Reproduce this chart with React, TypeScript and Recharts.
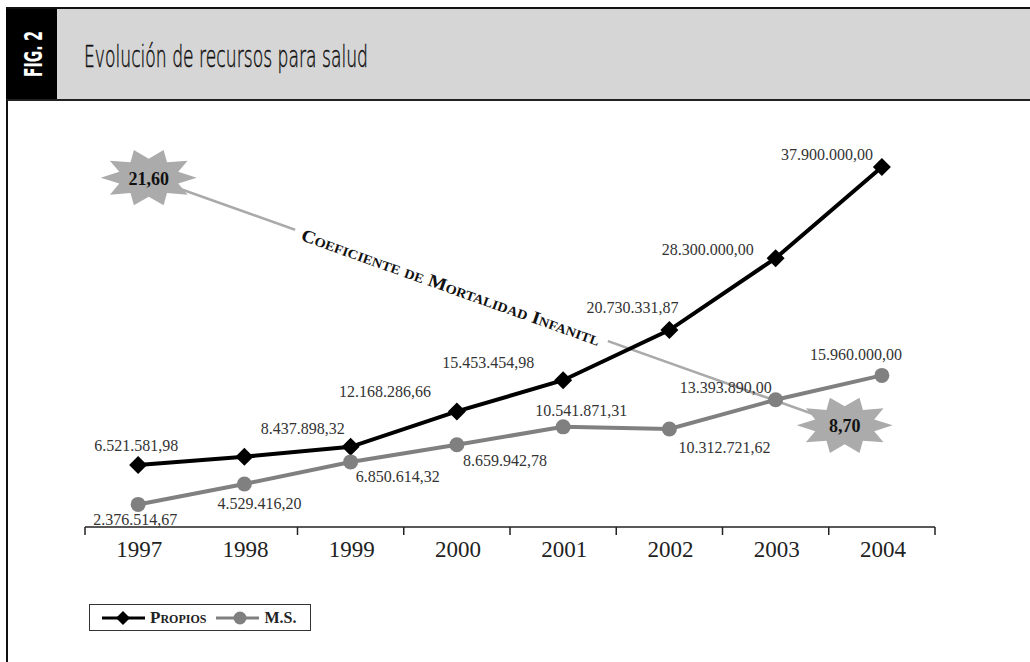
import React from 'react';
import { LineChart, Line, XAxis, YAxis, Legend, LabelList } from 'recharts';

const years = [1997, 1998, 1999, 2000, 2001, 2002, 2003, 2004];
const propiosValues = [6521581.98, 7400000, 8437898.32, 12168286.66, 15453454.98, 20730331.87, 28300000, 37900000];
const msValues = [2376514.67, 4529416.2, 6850614.32, 8659942.78, 10541871.31, 10312721.62, 13393890, 15960000];
const mortYears = [1997.1, 2003.65];
const mortValues = [21.6, 8.7];
const mortCaption = 'Coeficiente de Mortalidad Infanitl';
const axisTicks = [1996.5, 1997, 1998, 1998.5, 1999, 1999.5, 2000, 2000.5, 2001, 2001.5, 2002, 2002.5, 2003, 2003.5, 2004, 2004.5];

const data = years.map((year, i) => ({ year, propios: propiosValues[i], ms: msValues[i] }));
const mortData = mortYears.map((year, i) => ({ year, m: mortValues[i] }));

const SERIF = "'Liberation Serif', 'Times New Roman', serif";
const NARROW = "'Liberation Sans Narrow', 'DejaVu Sans Condensed', sans-serif";

// label offsets from each point (label centre), null = no label
const propiosOffsets: (number[] | null)[] = [[-2, -20], null, [-48, -18], [-72, -20], [-75, -18], [-37, -23], [-68, -9], [-55, -12]];
const msOffsets: (number[] | null)[] = [[-3, 15], [15, 20], [47, 15], [48, 16], [18, -16], [55, 18], [-50, -12], [-26, -21]];

const fmt = (v: number) => {
  const [i, d] = v.toFixed(2).split('.');
  return i.replace(/\B(?=(\d{3})+(?!\d))/g, '.') + ',' + d;
};

const makeLabel = (offsets: (number[] | null)[]) => (props: any) => {
  const { index, value } = props;
  const x = props.x ?? props.viewBox?.x;
  const y = props.y ?? props.viewBox?.y;
  const off = offsets[index];
  if (!off || x == null) return null;
  return (
    <text x={x + off[0]} y={y + off[1]} textAnchor="middle" dominantBaseline="central" fontFamily={SERIF} fontSize={16} fill="#333">
      {fmt(value)}
    </text>
  );
};

const Diamond = (p: any) => {
  const { cx, cy } = p;
  if (cx == null) return null;
  const s = 9;
  return <path key={p.key} d={`M${cx},${cy - s}L${cx + s},${cy}L${cx},${cy + s}L${cx - s},${cy}Z`} fill="#000" />;
};

const Circle = (p: any) => {
  const { cx, cy } = p;
  if (cx == null) return null;
  return <circle key={p.key} cx={cx} cy={cy} r={7.5} fill="#808080" />;
};

const starPath = (cx: number, cy: number) => {
  const n = 10;
  let d = '';
  for (let k = 0; k < n * 2; k++) {
    const a = (Math.PI * k) / n;
    const outer = k % 2 === 0;
    const rx = outer ? 48 : 31;
    const ry = outer ? 29 : 19;
    d += (k === 0 ? 'M' : 'L') + (cx + rx * Math.cos(a)).toFixed(1) + ',' + (cy + ry * Math.sin(a)).toFixed(1);
  }
  return d + 'Z';
};

const MortDot = (p: any) => {
  const { cx, cy, index, value, points } = p;
  if (cx == null) return null;
  const star = (
    <g>
      <path d={starPath(cx, cy)} fill="#ababab" />
      <text x={cx} y={cy + 1} textAnchor="middle" dominantBaseline="central" fontFamily={SERIF} fontWeight="bold" fontSize={18} fill="#111">
        {value.toFixed(2).replace('.', ',')}
      </text>
    </g>
  );
  if (index === 0 && points && points.length > 1) {
    const a = points[0];
    const b = points[1];
    const ang = (Math.atan2(b.y - a.y, b.x - a.x) * 180) / Math.PI;
    const t = 0.435;
    const tx = a.x + (b.x - a.x) * t;
    const ty = a.y + (b.y - a.y) * t;
    return (
      <g key={p.key}>
        <g transform={`translate(${tx},${ty}) rotate(${ang})`}>
          <rect x={-166} y={-9} width={332} height={18} fill="#fff" />
          <text x={0} y={2} textAnchor="middle" dominantBaseline="central" fontFamily={SERIF} fontWeight="bold" fontSize={18}
            fill="#111" style={{ fontVariant: 'small-caps' }} textLength={316} lengthAdjust="spacingAndGlyphs">
            {mortCaption}
          </text>
        </g>
        {star}
      </g>
    );
  }
  return <g key={p.key}>{star}</g>;
};

const YearTick = (p: any) => {
  const { x, y, payload } = p;
  const v = payload.value;
  if (!Number.isInteger(v)) {
    return <line x1={x} x2={x} y1={y} y2={y + 8} stroke="#222" strokeWidth={1.5} />;
  }
  return (
    <text x={x + 1} y={y + 30} textAnchor="middle" fontFamily={SERIF} fontSize={23} fill="#222">
      {v}
    </text>
  );
};

const LegendBox = () => (
  <div style={{ boxSizing: 'border-box', width: 222, height: 27, border: '1.5px solid #333', display: 'flex', alignItems: 'center', paddingLeft: 12, fontFamily: SERIF, color: '#222' }}>
    <svg width={43} height={18}>
      <line x1={0} y1={9} x2={43} y2={9} stroke="#000" strokeWidth={3} />
      <path d="M21,2L28,9L21,16L14,9Z" fill="#000" />
    </svg>
    <span style={{ marginLeft: 5, fontWeight: 'bold', fontSize: 17, fontVariant: 'small-caps' }}>Propios</span>
    <svg width={43} height={18} style={{ marginLeft: 10 }}>
      <line x1={0} y1={9} x2={43} y2={9} stroke="#808080" strokeWidth={3} />
      <circle cx={24} cy={9} r={6.5} fill="#808080" />
    </svg>
    <span style={{ marginLeft: 5, fontWeight: 'bold', fontSize: 16 }}>M.S.</span>
  </div>
);

const Header = () => (
  <svg width={1030} height={102} style={{ position: 'absolute', left: 0, top: 0 }}>
    <rect x={57} y={9} width={973} height={91} fill="#d6d6d6" />
    <rect x={6} y={8} width={51} height={92} fill="#000" />
    <line x1={6} y1={8} x2={1030} y2={8} stroke="#111" strokeWidth={2} />
    <line x1={6} y1={100} x2={1030} y2={100} stroke="#222" strokeWidth={2} />
    <text transform="translate(42,54) rotate(-90)" textAnchor="middle" fontFamily={NARROW} fontWeight="bold" fontSize={25} fill="#fff" textLength={46} lengthAdjust="spacingAndGlyphs">
      FIG. 2
    </text>
    <text x={84} y={67} fontFamily="'DejaVu Sans', sans-serif" fontWeight={200} fontSize={30} fill="#111" stroke="#111" strokeWidth={0.5}
      textLength={284} lengthAdjust="spacingAndGlyphs">
      Evolución de recursos para salud
    </text>
  </svg>
);

const App: React.FC = () => {
  return (
    <div style={{ position: 'absolute', left: 0, top: 0, width: 1030, height: 662, background: '#fff', overflow: 'hidden' }}>
      <Header />
      <div style={{ position: 'absolute', left: 6, top: 100, width: 1.5, height: 562, background: '#111' }} />
      <div style={{ position: 'absolute', left: 0, top: 0 }}>
        <LineChart width={1030} height={662} data={data} margin={{ top: 147, right: 95, left: 85, bottom: 95 }}>
          <XAxis dataKey="year" type="number" domain={[1996.5, 2004.5]} ticks={axisTicks} interval={0} allowDecimals
            tickLine={false} tickSize={0} tickMargin={0} height={40} axisLine={{ stroke: '#222', strokeWidth: 1.5 }} tick={<YearTick />} />
          <YAxis yAxisId="left" hide domain={[0, 40000000]} />
          <YAxis yAxisId="mort" hide domain={[3.4, 23.2]} />
          <Legend verticalAlign="middle" align="center" content={<LegendBox />} wrapperStyle={{ left: 89, top: 604, width: 222, height: 27 }} />
          <Line yAxisId="mort" data={mortData} dataKey="m" stroke="#aaaaaa" strokeWidth={2.5} dot={MortDot} activeDot={false} isAnimationActive={false} legendType="none" />
          <Line yAxisId="left" dataKey="propios" name="Propios" stroke="#000" strokeWidth={4} dot={Diamond} activeDot={false} isAnimationActive={false}>
            <LabelList dataKey="propios" content={makeLabel(propiosOffsets)} />
          </Line>
          <Line yAxisId="left" dataKey="ms" name="M.S." stroke="#808080" strokeWidth={4} dot={Circle} activeDot={false} isAnimationActive={false}>
            <LabelList dataKey="ms" content={makeLabel(msOffsets)} />
          </Line>
        </LineChart>
      </div>
    </div>
  );
};

export default App;
